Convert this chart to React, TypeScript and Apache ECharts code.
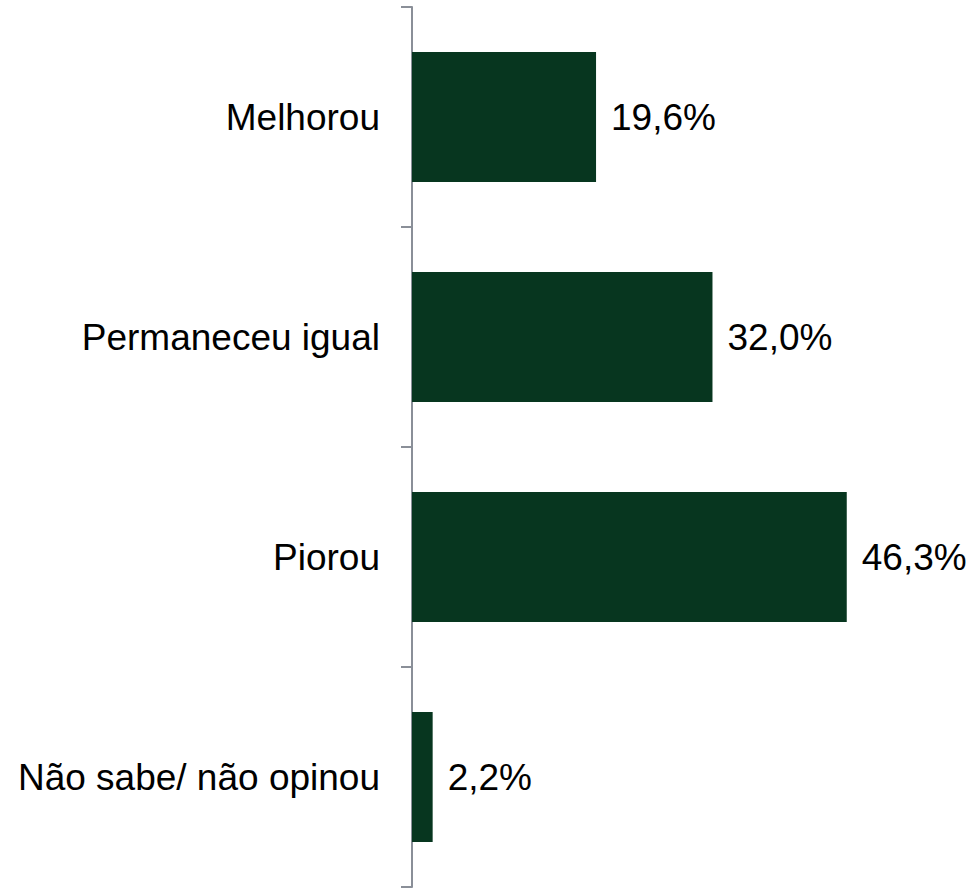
import React, { useEffect, useRef } from "react";
import * as echarts from "echarts";

const categories = ["Melhorou", "Permaneceu igual", "Piorou", "Não sabe/ não opinou"];
const values = [19.6, 32.0, 46.3, 2.2];

export default function App() {
  const ref = useRef<HTMLDivElement>(null);
  useEffect(() => {
    if (!ref.current) return;
    const chart = echarts.init(ref.current, undefined, { renderer: "svg" });
    chart.setOption({
      animation: false,
      grid: { left: 412, right: 87.5, top: 7, bottom: 2, containLabel: false },
      xAxis: {
        type: "value",
        min: 0,
        max: 50,
        show: false,
      },
      yAxis: {
        type: "category",
        data: categories,
        inverse: true,
        axisLine: { show: true, lineStyle: { color: "#8a8f98", width: 2 } },
        axisTick: { show: true, length: 11, lineStyle: { color: "#8a8f98", width: 2 } },
        axisLabel: {
          margin: 32,
          color: "#000",
          fontSize: 37,
          fontFamily: "Liberation Sans, Arial, sans-serif",
        },
        splitLine: { show: false },
      },
      series: [
        {
          type: "bar",
          data: values,
          barCategoryGap: "41%",
          itemStyle: { color: "#07361f" },
          label: {
            show: true,
            position: "right",
            distance: 15,
            color: "#000",
            fontSize: 37,
            fontFamily: "Liberation Sans, Arial, sans-serif",
            formatter: (p: any) => p.value.toFixed(1).replace(".", ",") + "%",
          },
        },
      ],
    });
    return () => chart.dispose();
  }, []);
  return (
    <div
      ref={ref}
      style={{ position: "fixed", left: 0, top: 0, width: 969, height: 889, background: "#fff" }}
    />
  );
}
